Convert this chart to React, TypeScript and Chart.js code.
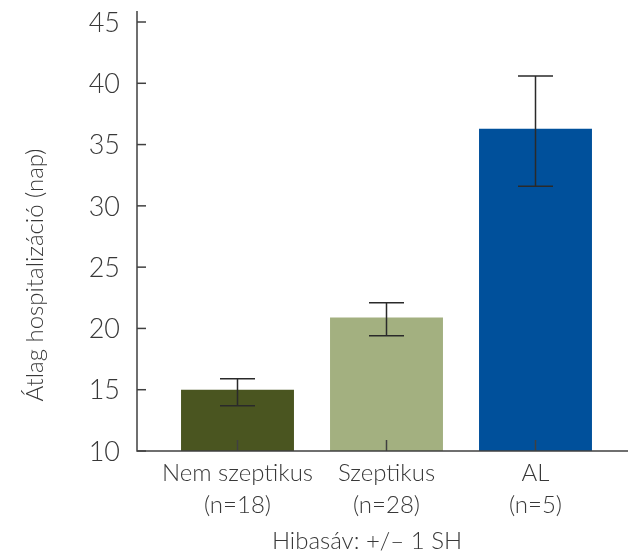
import React, { useEffect, useRef } from "react";
import { Chart, registerables } from "chart.js";

Chart.register(...registerables);

const categories = ["Nem szeptikus", "Szeptikus", "AL"];
const sampleSizes = ["(n=18)", "(n=28)", "(n=5)"];
const means = [15.0, 20.9, 36.3];
const errUpper = [15.9, 22.1, 40.6];
const errLower = [13.7, 19.4, 31.6];
const yTicks = [10, 15, 20, 25, 30, 35, 40, 45];
const barColors = ["#4A5520", "#A3B080", "#00509B"];
const yTitle = "Átlag hospitalizáció (nap)";
const footnote = "Hibasáv: +/– 1 SH";

const FONT = "Lato, 'Open Sans', sans-serif";
const TEXT = "#383838";
const AXIS = "#404040";

const drawPlugin = {
  id: "customAxes",
  afterDatasetsDraw(chart: any) {
    const ctx = chart.ctx as CanvasRenderingContext2D;
    const xs = chart.scales.x;
    const ys = chart.scales.y;
    const area = chart.chartArea;
    const axisX = area.left - 26;
    const axisY = ys.getPixelForValue(10);
    ctx.save();
    // error bars
    ctx.lineWidth = 1.5;
    ctx.strokeStyle = "#2a2a2a";
    means.forEach((_, i) => {
      const cx = xs.getPixelForValue(i);
      const yt = ys.getPixelForValue(errUpper[i]);
      const yb = ys.getPixelForValue(errLower[i]);
      ctx.beginPath();
      ctx.moveTo(cx, yt);
      ctx.lineTo(cx, yb);
      ctx.moveTo(cx - 17.5, yt);
      ctx.lineTo(cx + 17.5, yt);
      ctx.moveTo(cx - 17.5, yb);
      ctx.lineTo(cx + 17.5, yb);
      ctx.stroke();
    });
    // axes
    ctx.strokeStyle = AXIS;
    ctx.lineWidth = 1.5;
    ctx.beginPath();
    ctx.moveTo(axisX, area.top - 11);
    ctx.lineTo(axisX, axisY);
    ctx.lineTo(chart.width, axisY);
    ctx.stroke();
    // y ticks
    ctx.fillStyle = TEXT;
    ctx.font = `300 27px ${FONT}`;
    ctx.textAlign = "right";
    ctx.textBaseline = "middle";
    yTicks.forEach((v) => {
      const y = ys.getPixelForValue(v);
      ctx.beginPath();
      ctx.moveTo(axisX, y);
      ctx.lineTo(axisX + 9, y);
      ctx.stroke();
      ctx.fillText(String(v), axisX - 17, y + 1);
    });
    // x ticks and labels
    ctx.textAlign = "center";
    ctx.textBaseline = "alphabetic";
    ctx.font = `300 24px ${FONT}`;
    categories.forEach((c, i) => {
      const cx = xs.getPixelForValue(i);
      ctx.beginPath();
      ctx.moveTo(cx, axisY);
      ctx.lineTo(cx, axisY - 11);
      ctx.stroke();
      ctx.fillText(c, cx, axisY + 30);
      ctx.fillText(sampleSizes[i], cx, axisY + 62);
    });
    ctx.fillText(footnote, 367, 549);
    // y title
    ctx.translate(43, 275);
    ctx.rotate(-Math.PI / 2);
    ctx.textAlign = "center";
    ctx.fillText(yTitle, 0, 0);
    ctx.restore();
  },
};

export default function App() {
  const ref = useRef<HTMLCanvasElement>(null);
  useEffect(() => {
    if (!ref.current) return;
    const chart = new Chart(ref.current, {
      type: "bar",
      data: {
        labels: categories,
        datasets: [
          {
            data: means,
            backgroundColor: barColors,
            borderWidth: 0,
            barPercentage: 0.758,
            categoryPercentage: 1,
          },
        ],
      },
      options: {
        animation: false,
        responsive: false,
        events: [],
        layout: { padding: { left: 163, right: 18, top: 22, bottom: 103 } },
        plugins: { legend: { display: false }, tooltip: { enabled: false } },
        scales: {
          x: { display: false, offset: true },
          y: { display: false, min: 10, max: 45 },
        },
      },
      plugins: [drawPlugin],
    });
    return () => chart.destroy();
  }, []);
  return (
    <div style={{ position: "fixed", left: 0, top: 0, width: 628, height: 554, background: "#fff" }}>
      <canvas ref={ref} width={628} height={554} style={{ width: 628, height: 554 }} />
    </div>
  );
}
